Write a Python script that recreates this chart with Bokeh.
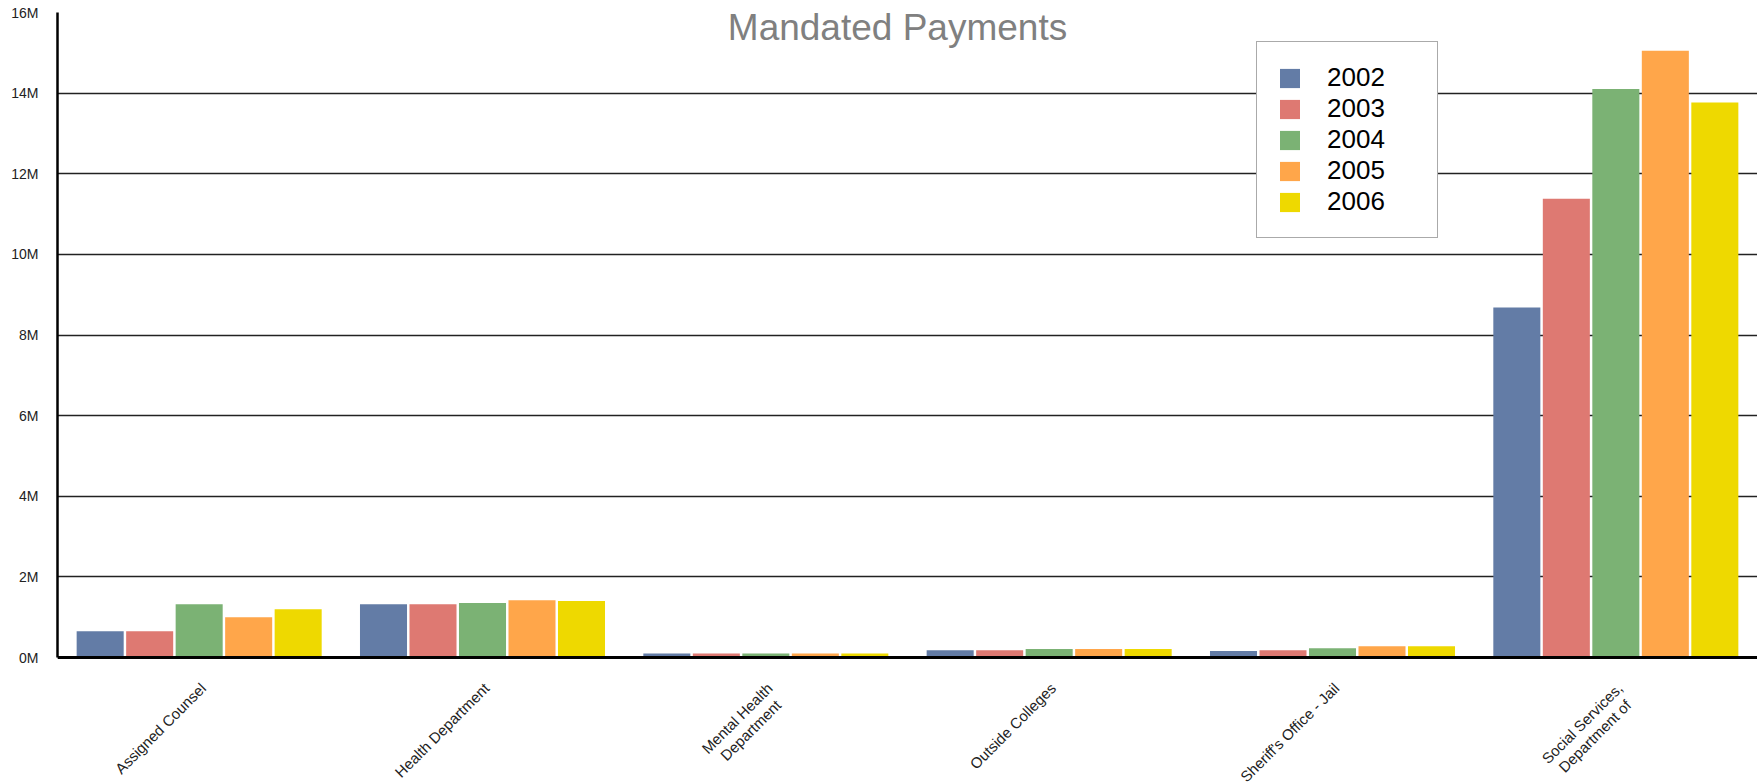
from bokeh.plotting import figure
from bokeh.models import ColumnDataSource, FixedTicker, Label, Legend, Span
from bokeh.transform import dodge
from bokeh.embed import file_html
from bokeh.resources import INLINE
import math

categories = ["Assigned Counsel", "Health Department", "Mental Health Department",
              "Outside Colleges", "Sheriff's Office - Jail", "Social Services, Department of"]
category_labels = ["Assigned Counsel", "Health Department", "Mental Health\nDepartment",
                   "Outside Colleges", "Sheriff's Office - Jail", "Social Services,\nDepartment of"]
years = ["2002", "2003", "2004", "2005", "2006"]
# values in millions of dollars
y2002 = [0.65, 1.32, 0.10, 0.18, 0.16, 8.68]
y2003 = [0.65, 1.32, 0.10, 0.18, 0.18, 11.38]
y2004 = [1.32, 1.35, 0.10, 0.21, 0.23, 14.10]
y2005 = [1.00, 1.42, 0.10, 0.21, 0.28, 15.05]
y2006 = [1.20, 1.40, 0.10, 0.21, 0.28, 13.77]
y_ticks = [0, 2, 4, 6, 8, 10, 12, 14, 16]
y_tick_labels = ["0M", "2M", "4M", "6M", "8M", "10M", "12M", "14M", "16M"]
colors = ["#637ca6", "#de7972", "#7bb274", "#ffa64a", "#eed900"]

source = ColumnDataSource(dict(cat=categories, y2002=y2002, y2003=y2003,
                               y2004=y2004, y2005=y2005, y2006=y2006))

# frame extends below zero to leave room for the rotated category labels
p = figure(x_range=categories, y_range=(-3.10, 16), width=1757, height=782,
           frame_width=1700, frame_height=770,
           output_backend="svg", toolbar_location=None,
           min_border_left=57, min_border_right=0, min_border_top=12, min_border_bottom=0)
p.background_fill_color = "white"
p.border_fill_color = "white"
p.outline_line_color = None

step = 0.1747
bw = 0.166
renderers = []
for i, (yr, col) in enumerate(zip(years, colors)):
    r = p.vbar(x=dodge("cat", (i - 2) * step, range=p.x_range), top="y" + yr, width=bw,
               bottom=0, source=source, fill_color=col, line_color=None)
    renderers.append((yr, [r]))

# grid
p.xgrid.grid_line_color = None
p.ygrid.grid_line_color = "#222222"
p.ygrid.grid_line_width = 1.3
p.ygrid.ticker = FixedTicker(ticks=y_ticks)

# y axis
p.yaxis.ticker = FixedTicker(ticks=y_ticks)
p.yaxis.bounds = (0, 16)
p.yaxis.major_label_overrides = {t: l for t, l in zip(y_ticks, y_tick_labels)}
p.yaxis.axis_line_color = "black"
p.yaxis.axis_line_width = 2.5
p.yaxis.major_tick_line_color = None
p.yaxis.minor_tick_line_color = None
p.yaxis.major_label_text_font = "Liberation Sans"
p.yaxis.major_label_text_font_size = "14px"
p.yaxis.major_label_text_color = "#222222"
p.yaxis.major_label_standoff = 13

# x axis: baseline drawn at zero, category labels drawn as rotated labels
p.xaxis.visible = False
p.add_layout(Span(location=0, dimension="width", line_color="black", line_width=3))

ang = math.pi / 4
c45 = math.cos(ang)
line_gap = 18
back = 6
for idx, lab in enumerate(category_labels):
    xc = idx + 0.5  # synthetic coordinate of the category centre
    for k, line in enumerate(lab.split("\n")):
        dx = 4.0 + k * line_gap * c45 - (back * c45 if k else 0)
        dy = 28.0 + k * line_gap * c45 + (back * c45 if k else 0)
        p.add_layout(Label(x=xc, y=0, x_offset=dx, y_offset=-dy, text=line, angle=ang,
                           text_align="right", text_baseline="middle",
                           text_font="Liberation Sans", text_font_size="15px",
                           text_color="#222222"))

# title inside plot area
title = Label(x=840, y=755, x_units="screen", y_units="screen", text="Mandated Payments",
              text_align="center", text_baseline="alphabetic", text_font="Liberation Sans",
              text_font_size="37px", text_color="#808080")
p.add_layout(title)

legend = Legend(items=renderers, location=(1199, 544))
legend.label_text_font = "Liberation Sans"
legend.label_text_font_size = "26px"
legend.label_text_color = "black"
legend.glyph_width = 25
legend.glyph_height = 24
legend.label_height = 24
legend.spacing = 0
legend.padding = 20
legend.margin = 0
legend.label_standoff = 25
legend.border_line_color = "#555555"
legend.border_line_width = 1
legend.background_fill_color = "white"
legend.background_fill_alpha = 1
legend.label_width = 90
p.add_layout(legend, "center")

open("out.html", "w").write(file_html(p, INLINE))
